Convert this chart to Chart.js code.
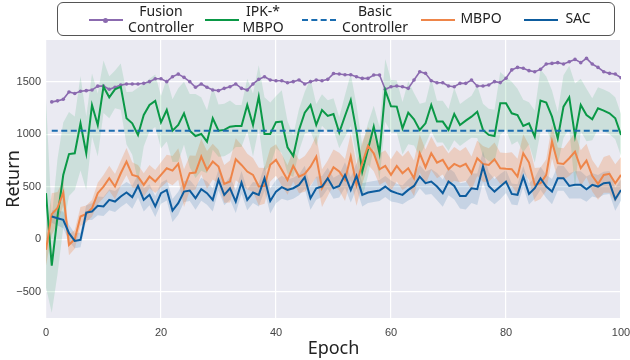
<!DOCTYPE html>
<html>
<head>
<meta charset="utf-8">
<script src="https://cdn.jsdelivr.net/npm/chart.js@4.4.1/dist/chart.umd.min.js"></script>
<style>
  html, body { margin: 0; padding: 0; background: #fff; }
  #wrap { position: relative; width: 630px; height: 360px; }
  #legend {
    position: absolute; left: 57px; top: 2px; width: 556px; height: 32px;
    border: 1px solid #555; border-radius: 6px; background: #fff;
    font-family: 'Noto Sans', sans-serif; font-size: 14px; color: #222;
  }
  .sample { position: absolute; top: 16px; width: 34px; height: 0; }
  .txt { position: absolute; line-height: 16px; text-align: center; white-space: nowrap; transform: translateX(-50%); }
  .dot { position: absolute; left: 14px; top: -3px; width: 5px; height: 5px; border-radius: 50%; }
</style>
</head>
<body>
<div id="wrap">
  <canvas id="chart" width="630" height="360"></canvas>
  <div id="legend"></div>
</div>
<script>
// x axis / ticks
const epochs = Array.from({ length: 101 }, (_, i) => i);
const xTicks = [0, 20, 40, 60, 80, 100];
const yTicks = [-500, 0, 500, 1000, 1500];

// Fusion Controller (starts at epoch 1)
const fusion = [null,
  1310, 1320, 1335, 1405, 1390, 1412, 1417, 1423, 1460, 1460,
  1430, 1450, 1470, 1480, 1480, 1481, 1487, 1503, 1530, 1530,
  1503, 1550, 1575, 1544, 1503, 1450, 1481, 1450, 1423, 1417,
  1439, 1455, 1481, 1439, 1423, 1481, 1525, 1550, 1519, 1512,
  1512, 1493, 1503, 1519, 1481, 1503, 1519, 1512, 1525, 1580,
  1576, 1569, 1569, 1550, 1534, 1534, 1566, 1566, 1430, 1455,
  1461, 1455, 1439, 1519, 1598, 1582, 1512, 1493, 1493, 1461,
  1455, 1487, 1487, 1519, 1461, 1461, 1471, 1503, 1494, 1535,
  1615, 1639, 1630, 1608, 1598, 1620, 1671, 1677, 1684, 1671,
  1693, 1715, 1684, 1725, 1671, 1639, 1598, 1582, 1576, 1540];

// IPK-* MBPO mean and spread
const ipk = [440,
  -250, 217, 613, 813, 820, 1106, 820, 1280, 1090, 1455,
  1354, 1430, 1455, 1154, 1106, 995, 1185, 1280, 1320, 1115,
  1233, 1036, 1090, 1201, 1036, 985, 1004, 931, 1154, 1036,
  1043, 1074, 1081, 1081, 1280, 1090, 1360, 1004, 1004, 1117,
  1122, 877, 795, 1043, 1207, 1280, 1090, 1233, 1176, 1195,
  1017, 1176, 1328, 1027, 646, 858, 1074, 820, 1420, 1268,
  1265, 1058, 1207, 1144, 1043, 1106, 1280, 1122, 1122, 1043,
  1195, 1090, 1131, 1169, 1217, 1043, 995, 985, 1296, 1296,
  1201, 1185, 1081, 1106, 979, 1322, 1303, 1169, 963, 1265,
  1354, 985, 1281, 1185, 1144, 1249, 1227, 1201, 1154, 995];
const ipkStd = [900,
  450, 550, 500, 400, 350, 450, 350, 300, 300, 250,
  200, 180, 220, 250, 300, 450, 300, 250, 250, 250,
  300, 300, 350, 300, 350, 400, 350, 300, 300, 250,
  250, 250, 200, 200, 250, 300, 300, 350, 300, 250,
  300, 250, 200, 200, 200, 250, 200, 150, 150, 150,
  150, 200, 250, 250, 250, 250, 200, 250, 300, 250,
  250, 250, 300, 250, 250, 200, 250, 200, 200, 200,
  250, 200, 200, 200, 250, 250, 250, 250, 300, 250,
  300, 250, 250, 200, 250, 300, 250, 250, 250, 300,
  300, 500, 250, 250, 200, 200, 200, 200, 200, 200];

// Basic Controller (flat line)
const basicX = [1, 100];
const basicY = [1035, 1035];

// MBPO mean and spread
const mbpo = [-100,
  240, 300, 445, -52, 0, 217, 242, 296, 440, 503,
  582, 503, 630, 741, 614, 598, 519, 598, 551, 614,
  677, 655, 719, 487, 630, 636, 789, 662, 741, 693,
  528, 551, 763, 709, 646, 614, 503, 509, 710, 757,
  662, 566, 700, 598, 624, 693, 789, 487, 582, 687,
  646, 566, 789, 519, 725, 890, 820, 668, 700, 614,
  700, 630, 677, 582, 820, 687, 820, 731, 757, 668,
  719, 693, 719, 630, 773, 719, 709, 763, 677, 672,
  669, 598, 821, 732, 519, 535, 614, 932, 726, 719,
  773, 836, 678, 751, 605, 528, 614, 624, 535, 614];
const mbpoStd = [150,
  200, 150, 120, 100, 90, 90, 80, 80, 100, 110,
  120, 120, 120, 130, 120, 110, 110, 110, 110, 120,
  130, 140, 150, 180, 170, 160, 170, 180, 170, 160,
  180, 200, 200, 190, 170, 160, 180, 170, 160, 150,
  150, 140, 150, 160, 170, 180, 200, 180, 170, 170,
  180, 200, 220, 200, 200, 180, 170, 150, 150, 150,
  150, 160, 170, 170, 180, 170, 160, 150, 140, 150,
  160, 150, 160, 160, 170, 170, 160, 160, 150, 150,
  160, 170, 180, 170, 160, 150, 150, 160, 150, 150,
  170, 180, 170, 160, 150, 150, 170, 180, 180, 170];

// SAC mean and spread (starts at epoch 1)
const sac = [null,
  217, 201, 185, 59, -15, -5, 255, 265, 319, 313,
  376, 360, 408, 446, 402, 509, 376, 424, 313, 440,
  471, 274, 344, 455, 465, 392, 478, 440, 376, 566,
  424, 487, 360, 541, 376, 446, 424, 582, 365, 455,
  497, 471, 487, 519, 592, 392, 487, 503, 582, 487,
  509, 614, 471, 605, 424, 446, 455, 465, 503, 460,
  440, 424, 471, 509, 598, 535, 551, 503, 440, 551,
  509, 414, 414, 487, 478, 693, 509, 455, 503, 551,
  433, 424, 598, 433, 487, 582, 503, 455, 582, 582,
  509, 519, 519, 478, 519, 503, 535, 541, 382, 471];
const sacStd = [null,
  60, 70, 80, 80, 70, 70, 70, 80, 90, 90,
  100, 100, 100, 100, 110, 110, 110, 100, 100, 100,
  100, 110, 110, 100, 100, 110, 110, 110, 110, 100,
  100, 110, 110, 110, 100, 100, 110, 120, 120, 110,
  110, 100, 100, 100, 110, 110, 110, 100, 100, 100,
  110, 120, 120, 120, 110, 100, 100, 100, 100, 100,
  90, 90, 100, 110, 110, 110, 120, 130, 130, 130,
  130, 120, 130, 140, 150, 150, 130, 120, 120, 110,
  100, 100, 100, 100, 100, 110, 110, 120, 120, 120,
  120, 130, 130, 120, 110, 110, 110, 110, 110, 100];

const colors = {
  fusion: '#8b6aaf',
  ipk: '#0a9846',
  basic: '#1a6cb0',
  mbpo: '#ee8549',
  sac: '#0d5c9e'
};

function pts(xs, ys) {
  return ys.map((y, i) => ({ x: xs[i], y: y }));
}
function band(mean, std, sign) {
  return mean.map((m, i) => (m === null ? null : m + sign * std[i]));
}
function bandSets(mean, std, fillColor) {
  return [
    { data: pts(epochs, band(mean, std, 1)), fill: '+1', backgroundColor: fillColor,
      borderWidth: 0, pointRadius: 0, order: 10 },
    { data: pts(epochs, band(mean, std, -1)), fill: false,
      borderWidth: 0, pointRadius: 0, order: 10 }
  ];
}

const plotBg = {
  id: 'plotBg',
  beforeDraw(chart) {
    const { ctx, chartArea: a } = chart;
    ctx.save();
    ctx.fillStyle = '#eaeaf2';
    ctx.fillRect(a.left, a.top, a.right - a.left, a.bottom - a.top);
    ctx.restore();
  }
};

const tickFont = { family: "'Liberation Sans', Arial, sans-serif", size: 11 };
const titleFont = { family: "'Noto Sans', sans-serif", size: 18 };

new Chart(document.getElementById('chart'), {
  type: 'line',
  data: {
    datasets: [
      ...bandSets(ipk, ipkStd, 'rgba(10,152,70,0.13)'),
      ...bandSets(mbpo, mbpoStd, 'rgba(238,133,73,0.28)'),
      ...bandSets(sac, sacStd, 'rgba(13,92,158,0.16)'),
      { label: 'Fusion Controller', data: pts(epochs, fusion), borderColor: colors.fusion,
        backgroundColor: colors.fusion, borderWidth: 1.6, pointRadius: 1.8, pointBorderWidth: 0,
        order: 5 },
      { label: 'IPK-* MBPO', data: pts(epochs, ipk), borderColor: colors.ipk,
        borderWidth: 2, pointRadius: 0, order: 4 },
      { label: 'Basic Controller', data: pts(basicX, basicY), borderColor: colors.basic,
        borderWidth: 2, borderDash: [6, 3.5], pointRadius: 0, order: 3 },
      { label: 'MBPO', data: pts(epochs, mbpo), borderColor: colors.mbpo,
        borderWidth: 2, pointRadius: 0, order: 2 },
      { label: 'SAC', data: pts(epochs, sac), borderColor: colors.sac,
        borderWidth: 2, pointRadius: 0, order: 1 }
    ]
  },
  options: {
    responsive: false,
    animation: false,
    layout: { padding: { top: 40, right: 9, left: 3, bottom: 0 } },
    elements: { line: { tension: 0 } },
    plugins: { legend: { display: false }, tooltip: { enabled: false } },
    scales: {
      x: {
        type: 'linear', min: 0, max: 100,
        afterBuildTicks: s => { s.ticks = xTicks.map(v => ({ value: v })); },
        afterFit: s => { s.height = 42; s.paddingLeft = 0; s.paddingRight = 0; },
        grid: { color: '#ffffff', lineWidth: 1.2, drawTicks: false },
        border: { display: false },
        ticks: { color: '#444', font: tickFont, padding: 8, maxRotation: 0 },
        title: { display: true, text: 'Epoch', color: '#222', font: titleFont, padding: { top: 0, bottom: 0 } }
      },
      y: {
        min: -750, max: 1900,
        afterBuildTicks: s => { s.ticks = yTicks.map(v => ({ value: v })); },
        afterFit: s => { s.width = 43; s.paddingTop = 0; s.paddingBottom = 0; },
        grid: { color: '#ffffff', lineWidth: 1.2, drawTicks: false },
        border: { display: false },
        ticks: {
          color: '#444', font: tickFont, padding: 5,
          callback: v => (v < 0 ? '\u2212' + Math.abs(v) : String(v))
        },
        title: { display: true, text: 'Return', color: '#222', font: titleFont, padding: { top: 0, bottom: 2 } }
      }
    }
  },
  plugins: [plotBg]
});

// legend built from the series names and styles
const legendItems = [
  { lines: ['Fusion', 'Controller'], color: colors.fusion, dash: false, dot: true, sample: 31, text: 103 },
  { lines: ['IPK-*', 'MBPO'], color: colors.ipk, dash: false, dot: false, sample: 147, text: 205 },
  { lines: ['Basic', 'Controller'], color: colors.basic, dash: true, dot: false, sample: 244, text: 317 },
  { lines: ['MBPO'], color: colors.mbpo, dash: false, dot: false, sample: 363, text: 423 },
  { lines: ['SAC'], color: colors.sac, dash: false, dot: false, sample: 466, text: 520 }
];
const legend = document.getElementById('legend');
legendItems.forEach(it => {
  const s = document.createElement('div');
  s.className = 'sample';
  s.style.left = it.sample + 'px';
  s.style.borderTop = '2px ' + (it.dash ? 'dashed ' : 'solid ') + it.color;
  if (it.dot) {
    const d = document.createElement('div');
    d.className = 'dot';
    d.style.background = it.color;
    s.appendChild(d);
  }
  legend.appendChild(s);
  const t = document.createElement('div');
  t.className = 'txt';
  t.style.left = it.text + 'px';
  t.style.top = it.lines.length > 1 ? '0px' : '7px';
  t.innerHTML = it.lines.join('<br>');
  legend.appendChild(t);
});
</script>
</body>
</html>
